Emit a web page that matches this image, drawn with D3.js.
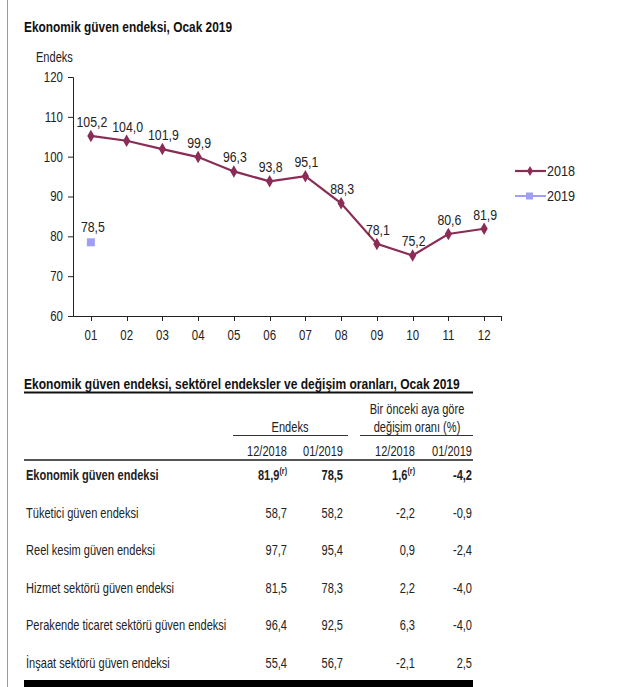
<!DOCTYPE html>
<html><head><meta charset="utf-8">
<script src="https://cdn.jsdelivr.net/npm/d3@7/dist/d3.min.js"></script>
<style>
body{margin:0;background:#fff;}
svg{display:block;font-family:"Liberation Sans",Arial,sans-serif;}
</style></head>
<body><svg id="c" width="640" height="687"></svg>
<script>
const months = ["01","02","03","04","05","06","07","08","09","10","11","12"];
const values2018 = [105.2,104.0,101.9,99.9,96.3,93.8,95.1,88.3,78.1,75.2,80.6,81.9];
const values2019 = [78.5];
const yTicks = [60,70,80,90,100,110,120];
const seriesNames = ["2018","2019"];
const rowLabels = ["Ekonomik güven endeksi","Tüketici güven endeksi","Reel kesim güven endeksi","Hizmet sektörü güven endeksi","Perakende ticaret sektörü güven endeksi","İnşaat sektörü güven endeksi"];
const idx122018 = ["81,9","58,7","97,7","81,5","96,4","55,4"];
const idx012019 = ["78,5","58,2","95,4","78,3","92,5","56,7"];
const chg122018 = ["1,6","-2,2","0,9","2,2","6,3","-2,1"];
const chg012019 = ["-4,2","-0,9","-2,4","-4,0","-4,0","2,5"];
const revisedFlags = [true,false,false,false,false,false];
const colHeaders = ["12/2018","01/2019","12/2018","01/2019"];

const svg = d3.select("#c");
const c2018 = "#8a2c55", c2019 = "#9f9ff5";
const fmt = v => v.toFixed(1).replace(".", ",");

// text helper: horizontally condensed text
function txt(g, x, y, s, o = {}) {
  return g.append("text")
    .attr("transform", `translate(${x},${y}) scale(${o.sx || 0.8},1)`)
    .attr("font-size", o.size || 14)
    .attr("font-weight", o.weight || "normal")
    .attr("text-anchor", o.anchor || "start")
    .attr("fill", o.fill || "#222")
    .text(s);
}

// left border
svg.append("line").attr("x1",7.5).attr("x2",7.5).attr("y1",0).attr("y2",687).attr("stroke","#999").attr("stroke-width",1);

txt(svg, 24, 32, "Ekonomik güven endeksi, Ocak 2019", {size:14.5, weight:"bold", sx:0.82, fill:"#111"});
txt(svg, 36, 62, "Endeks", {sx:0.79});

const x = d3.scaleBand().domain(months).range([73,502]);
const xc = m => x(m) + x.bandwidth()/2;
const y = d3.scaleLinear().domain([60,120]).range([316,77]);

const gy = svg.append("g").attr("transform","translate(73,0)")
  .call(d3.axisLeft(y).tickValues(yTicks).tickSize(5).tickPadding(5));
gy.selectAll("text").attr("font-size",14).attr("fill","#222").attr("font-family","inherit")
  .attr("x",null).attr("transform","translate(-10,0) scale(0.82,1)");
gy.selectAll("line,path").attr("stroke","#222");
gy.select(".domain").attr("d","M-5,77.5H0.5V316.5");

const gx = svg.append("g").attr("transform","translate(0,316)");
gx.append("line").attr("x1",73).attr("x2",502).attr("y1",0.5).attr("y2",0.5).attr("stroke","#222");
gx.selectAll(".tk").data(months).join("line").attr("class","tk")
  .attr("x1",d=>Math.round(xc(d))+0.5).attr("x2",d=>Math.round(xc(d))+0.5).attr("y1",0).attr("y2",5).attr("stroke","#222");
gx.append("line").attr("x1",501.5).attr("x2",501.5).attr("y1",0).attr("y2",5).attr("stroke","#222");
months.forEach(m => txt(gx, xc(m), 24, m, {anchor:"middle", sx:0.82}));

const d2018 = months.map((m,i)=>({m, v:values2018[i]}));
const line = d3.line().x(d=>xc(d.m)).y(d=>y(d.v));
svg.append("path").datum(d2018).attr("d",line).attr("fill","none").attr("stroke",c2018).attr("stroke-width",2.2);
const diamond = d3.symbol().type(d3.symbolDiamond).size(45);
svg.selectAll(".p18").data(d2018).join("path").attr("class","p18")
  .attr("d",diamond).attr("transform",d=>`translate(${xc(d.m)},${y(d.v)})`).attr("fill",c2018);
d2018.forEach(d => txt(svg, xc(d.m)+1, y(d.v)-9, fmt(d.v), {anchor:"middle", sx:0.88}));

const d2019 = values2019.map((v,i)=>({m:months[i], v}));
svg.selectAll(".p19").data(d2019).join("rect").attr("class","p19")
  .attr("x",d=>xc(d.m)-4).attr("y",d=>y(d.v)-4).attr("width",8).attr("height",8).attr("fill",c2019);
d2019.forEach(d => txt(svg, xc(d.m)+2, y(d.v)-10, fmt(d.v), {anchor:"middle", sx:0.88}));

// legend
const leg = svg.append("g");
seriesNames.forEach((s,i)=>{
  const ly = 171 + i*25, col = i===0?c2018:c2019;
  leg.append("line").attr("x1",515).attr("x2",546).attr("y1",ly).attr("y2",ly).attr("stroke",col).attr("stroke-width",i===0?2.2:2);
  if(i===0) leg.append("path").attr("d",d3.symbol().type(d3.symbolDiamond).size(30)).attr("transform",`translate(530,${ly})`).attr("fill",col);
  else leg.append("rect").attr("x",526).attr("y",ly-3.5).attr("width",7).attr("height",7).attr("fill",col);
  txt(leg, 547, ly+5, s, {sx:0.9});
});

// table
const t = svg.append("g");
txt(t, 24, 389, "Ekonomik güven endeksi, sektörel endeksler ve değişim oranları, Ocak 2019", {size:14.5, weight:"bold", sx:0.83, fill:"#111"});
t.append("line").attr("x1",24).attr("x2",473).attr("y1",392.5).attr("y2",392.5).attr("stroke","#111").attr("stroke-width",2);
txt(t, 290, 432, "Endeks", {anchor:"middle", sx:0.79});
t.append("line").attr("x1",233).attr("x2",348).attr("y1",435.5).attr("y2",435.5).attr("stroke","#333");
txt(t, 417, 414, "Bir önceki aya göre", {anchor:"middle", sx:0.79});
txt(t, 417, 432, "değişim oranı (%)", {anchor:"middle", sx:0.79});
t.append("line").attr("x1",360).attr("x2",473).attr("y1",435.5).attr("y2",435.5).attr("stroke","#333");
const colX = [287,343,415,472];
colHeaders.forEach((h,i)=>txt(t, colX[i], 456, h, {anchor:"end", sx:0.79}));
t.append("line").attr("x1",24).attr("x2",473).attr("y1",460).attr("y2",460).attr("stroke","#555").attr("stroke-width",2);

const rowY = d3.scalePoint().domain(rowLabels).range([480,668]);
const cols = [idx122018, idx012019, chg122018, chg012019];
rowLabels.forEach((r,i)=>{
  const bold = i===0 ? "bold" : "normal";
  txt(t, 26, rowY(r), r, {weight:bold, sx:0.79});
  cols.forEach((col,j)=>{
    const tx = txt(t, colX[j], rowY(r), "", {anchor:"end", weight:bold, sx:0.79});
    tx.append("tspan").text(col[i]);
    if(revisedFlags[i] && (j===0||j===2)) tx.append("tspan").attr("font-size",9).attr("dy",-6).text("(r)");
  });
});
t.append("rect").attr("x",24).attr("y",680).attr("width",449).attr("height",7).attr("fill","#000");
</script></body></html>
